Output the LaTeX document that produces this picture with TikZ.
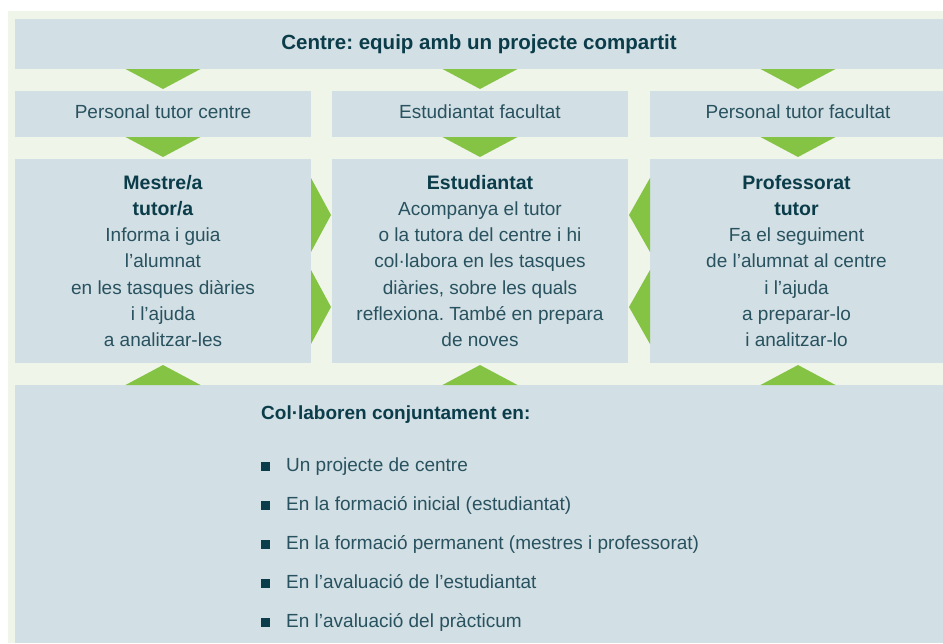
\documentclass[tikz,border=0pt]{standalone}
\usepackage{fontspec}
\setmainfont{Liberation Sans}
\usetikzlibrary{calc}
\frenchspacing
\definecolor{bgc}{HTML}{F0F5EA}
\definecolor{boxc}{HTML}{D2DFE4}
\definecolor{grn}{HTML}{85C345}
\definecolor{txt}{HTML}{28525F}
\definecolor{txtb}{HTML}{0B3C4A}
\newcommand\hd[1]{{\bfseries\color{txtb}\fontsize{19.5}{26.3}\selectfont #1}}
\newcommand\tridown[2]{\fill[tri] ($(#2.north |- #1.south)+(-37.5,0)$) -- ($(#2.north |- #1.south)+(37.5,0)$) -- ($(#2.north)+(0,-2)$) -- cycle;}
\newcommand\triup[2]{\fill[tri] ($(#1.south |- #2.north)+(-37.5,0)$) -- ($(#1.south |- #2.north)+(37.5,0)$) -- ($(#1.south)+(0,2)$) -- cycle;}
\begin{document}
\begin{tikzpicture}[x=1pt,y=-1pt,
  box/.style={fill=boxc, inner sep=0pt, outer sep=0pt, anchor=north west, align=center,
    text=txt, font=\fontsize{19}{26.3}\selectfont},
  tri/.style={fill=grn},
  lbl/.style={inner sep=0pt, text=txt, font=\fontsize{19}{23}\selectfont},
  item/.style={anchor=base west, inner sep=0pt, text=txt, font=\fontsize{19}{23}\selectfont},
  bul/.style={fill=txtb, minimum size=9pt, inner sep=0pt}]
\useasboundingbox (0,0) rectangle (943,643);
\fill[bgc] (8,11) rectangle (943,643);
% boxes
\node[box, minimum width=928pt, minimum height=50pt] (top) at (15,19)
  {\bfseries\color{txtb}\fontsize{20.5}{24}\selectfont Centre: equip amb un projecte compartit};
\node[box, minimum width=296pt, minimum height=46pt] (L2) at (15,91) {};
\node[box, minimum width=296pt, minimum height=46pt] (M2) at (332,91) {};
\node[box, minimum width=293pt, minimum height=46pt] (R2) at (650,91) {};
\node[lbl] (L2t) at ($(L2.center)+(0,-2)$) {Personal tutor centre};
\node[lbl] (M2t) at ($(M2.center)+(0,-2)$) {Estudiantat facultat};
\node[lbl] (R2t) at ($(R2.center)+(1.5,-2)$) {Personal tutor facultat};
\node[box, minimum width=296pt, minimum height=204pt] (L3) at (15,159)
  {\hd{Mestre/a}\\\hd{tutor/a}\\Informa i guia\\l’alumnat\\en les tasques diàries\\i l’ajuda\\a analitzar-les};
\node[box, minimum width=296pt, minimum height=204pt] (M3) at (332,159)
  {\hd{Estudiantat}\\Acompanya el tutor\\o la tutora del centre i hi\\col·labora en les tasques\\diàries, sobre les quals\\reflexiona. També en prepara\\de noves};
\node[box, minimum width=293pt, minimum height=204pt] (R3) at (650,159)
  {\hd{Professorat}\\\hd{tutor}\\Fa el seguiment\\de l’alumnat al centre\\i l’ajuda\\a preparar-lo\\i analitzar-lo};
\node[box, minimum width=928pt, minimum height=258pt] (bot) at (15,385) {};
% triangles
\tridown{top}{L2}
\tridown{top}{M2}
\path ($(R2.north)+(1.5,0)$) coordinate (r2n);
\fill[tri] ($(r2n |- top.south)+(-37.5,0)$) -- ($(r2n |- top.south)+(37.5,0)$) -- ($(r2n)+(0,-2)$) -- cycle;
\tridown{L2}{L3}
\tridown{M2}{M3}
\path ($(R3.north)+(1.5,0)$) coordinate (r3n);
\fill[tri] ($(r3n |- R2.south)+(-37.5,0)$) -- ($(r3n |- R2.south)+(37.5,0)$) -- ($(r3n)+(0,-2)$) -- cycle;
\triup{L3}{bot}
\triup{M3}{bot}
\path ($(R3.south)+(1.5,0)$) coordinate (r3s);
\fill[tri] ($(r3s |- bot.north)+(-37.5,0)$) -- ($(r3s |- bot.north)+(37.5,0)$) -- ($(r3s)+(0,2)$) -- cycle;
% side triangles
\foreach \dy in {-46,46} {
  \fill[tri] ($(L3.east)+(0,\dy-37)$) -- ($(L3.east)+(0,\dy+37)$) -- ($(M3.west |- L3.east)+(-1,\dy)$) -- cycle;
  \fill[tri] ($(R3.west)+(0,\dy-37)$) -- ($(R3.west)+(0,\dy+37)$) -- ($(M3.east |- R3.west)+(1,\dy)$) -- cycle;
}
% bottom text
\node[item, font=\bfseries\fontsize{19}{23}\selectfont, text=txtb] (ttl) at (261,419) {Col·laboren conjuntament en:};
\node[item] (i1) at (286,471) {Un projecte de centre};
\node[item] (i2) at (286,510) {En la formació inicial (estudiantat)};
\node[item] (i3) at (286,549) {En la formació permanent (mestres i professorat)};
\node[item] (i4) at (286,588) {En l’avaluació de l’estudiantat};
\node[item] (i5) at (286,627) {En l’avaluació del pràcticum};
\foreach \i in {1,...,5} \node[bul] at ($(i\i.base west)+(-20.5,-4.5)$) {};
\end{tikzpicture}
\end{document}
